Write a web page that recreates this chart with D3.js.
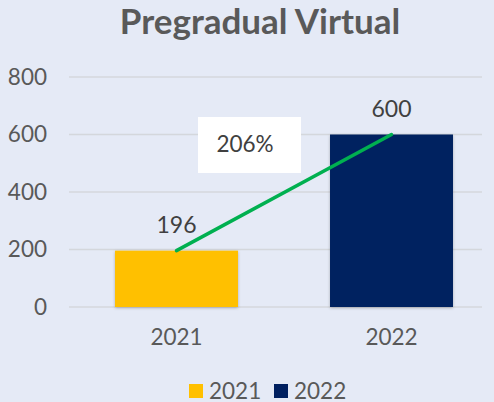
<!DOCTYPE html>
<html>
<head>
<meta charset="utf-8">
<script src="https://cdn.jsdelivr.net/npm/d3@7"></script>
<style>
  body { margin: 0; background: #e5eaf6; }
  svg { display: block; }
</style>
</head>
<body>
<div id="chart"></div>
<script>
// chart data
var years = ["2021", "2022"];
var values = [196, 600];
var colors = ["#ffc000", "#002060"];
var yTicks = [0, 200, 400, 600, 800];
var growthLabel = "206%";
var title = "Pregradual Virtual";

var W = 494, H = 402;
var font = "Lato, 'Open Sans', sans-serif";

var svg = d3.select("#chart").append("svg")
  .attr("width", W)
  .attr("height", H)
  .style("font-family", font);

svg.append("rect").attr("width", W).attr("height", H).attr("fill", "#e5eaf6");

// soft shadow under the bars
var defs = svg.append("defs");
var f = defs.append("filter").attr("id", "shadow")
  .attr("x", "-10%").attr("y", "-10%").attr("width", "120%").attr("height", "120%");
f.append("feDropShadow").attr("dx", 0).attr("dy", 1).attr("stdDeviation", 1.5)
  .attr("flood-color", "#000").attr("flood-opacity", 0.25);

var x = d3.scaleBand()
  .domain(years)
  .range([69, 499])
  .paddingInner(0.428)
  .paddingOuter(0.214);

var y = d3.scaleLinear()
  .domain([0, 800])
  .range([307, 77]);

// title
svg.append("text")
  .attr("x", 260).attr("y", 34)
  .attr("text-anchor", "middle")
  .attr("font-size", 35).attr("font-weight", "bold")
  .attr("fill", "#595959")
  .text(title);

// gridlines
svg.append("g").selectAll("line")
  .data(yTicks)
  .enter().append("line")
  .attr("x1", 69).attr("x2", 482)
  .attr("y1", function(d) { return y(d); })
  .attr("y2", function(d) { return y(d); })
  .attr("stroke", "#d4d7dc").attr("stroke-width", 1.3);

// y axis labels
var yAxis = svg.append("g")
  .attr("transform", "translate(47,0)")
  .call(d3.axisLeft(y).tickValues(yTicks).tickSize(0).tickPadding(0));
yAxis.select(".domain").remove();
yAxis.selectAll("text")
  .attr("font-family", font).attr("font-size", 22.5).attr("fill", "#595959");

// x axis labels
var xAxis = svg.append("g")
  .attr("transform", "translate(0,329)")
  .call(d3.axisBottom(x).tickSize(0).tickPadding(0));
xAxis.select(".domain").remove();
xAxis.selectAll("text")
  .attr("font-family", font).attr("font-size", 22.5).attr("fill", "#595959");

// bars
svg.append("g").selectAll("rect")
  .data(values)
  .enter().append("rect")
  .attr("x", function(d, i) { return x(years[i]); })
  .attr("y", function(d) { return y(d); })
  .attr("width", x.bandwidth())
  .attr("height", function(d) { return y(0) - y(d); })
  .attr("fill", function(d, i) { return colors[i]; })
  .attr("filter", "url(#shadow)");

// value labels
svg.append("g").selectAll("text")
  .data(values)
  .enter().append("text")
  .attr("x", function(d, i) { return x(years[i]) + x.bandwidth() / 2; })
  .attr("y", function(d) { return y(d) - 18; })
  .attr("text-anchor", "middle")
  .attr("font-size", 23).attr("fill", "#404040")
  .text(function(d) { return d; });

// growth line between bar tops
svg.append("path")
  .datum(values)
  .attr("fill", "none")
  .attr("stroke", "#00b050")
  .attr("stroke-width", 3.5)
  .attr("stroke-linecap", "round")
  .attr("d", d3.line()
    .x(function(d, i) { return x(years[i]) + x.bandwidth() / 2; })
    .y(function(d) { return y(d); }));

// growth label box
svg.append("rect")
  .attr("x", 198).attr("y", 117)
  .attr("width", 103).attr("height", 56)
  .attr("fill", "#ffffff");
svg.append("text")
  .attr("x", 245).attr("y", 152)
  .attr("text-anchor", "middle")
  .attr("font-size", 22.5).attr("fill", "#404040")
  .text(growthLabel);

// legend
var legend = svg.append("g").selectAll("g")
  .data(years)
  .enter().append("g")
  .attr("transform", function(d, i) { return "translate(" + (189 + i * 85) + ",384)"; });
legend.append("rect")
  .attr("width", 14).attr("height", 14)
  .attr("fill", function(d, i) { return colors[i]; });
legend.append("text")
  .attr("x", 20).attr("y", 14.5)
  .attr("font-size", 22.5).attr("fill", "#595959")
  .text(function(d) { return d; });
</script>
</body>
</html>
